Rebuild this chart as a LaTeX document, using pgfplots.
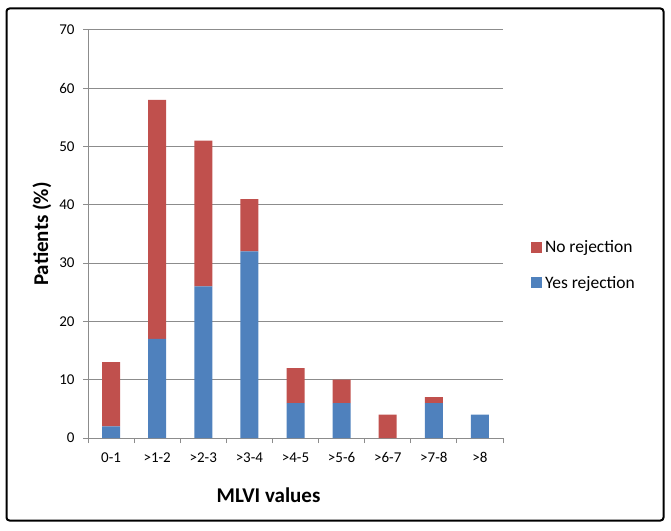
\documentclass[border=0pt]{standalone}
\usepackage{fontspec}
\setmainfont{Carlito}
\usepackage{pgfplots}
\pgfplotsset{compat=1.18}
\definecolor{cred}{HTML}{C0504D}
\definecolor{cblue}{HTML}{4F81BD}
\definecolor{cgrid}{HTML}{8C8C8C}
\begin{document}
\begin{tikzpicture}
\path[use as bounding box] (0pt,0pt) rectangle (671pt,530pt);
\draw[line width=2pt, rounded corners=3pt] (6.5pt,9.5pt) rectangle (663.5pt,521.5pt);
\begin{axis}[
  at={(88pt,92pt)}, anchor=south west,
  scale only axis, width=415pt, height=408pt,
  ybar stacked, bar width=18pt,
  xmin=-0.5, xmax=8.5, ymin=0, ymax=70,
  xtick={0,...,8},
  xticklabels={0-1,>1-2,>2-3,>3-4,>4-5,>5-6,>6-7,>7-8,>8},
  minor xtick={-0.5,0.5,...,8.5},
  ytick={0,10,...,70},
  axis x line*=bottom, axis y line*=left,
  axis line style={cgrid, line width=1pt},
  every tick/.style={cgrid, line width=1pt},
  tick align=outside,
  major tick length=5pt,
  major x tick style={draw=none},
  minor tick length=5pt,
  ymajorgrids, grid style={cgrid, line width=1pt},
  /pgf/number format/assume math mode=true,
  tick label style={font=\fontsize{15}{18}\selectfont, black},
  xticklabel style={yshift=-6pt},
  yticklabel style={xshift=-5pt},
  xlabel={\textbf{MLVI values}},
  ylabel={\textbf{Patients (\%)}},
  xlabel style={font=\fontsize{21}{24}\selectfont, at={(axis description cs:0.435,-0.14)}, anchor=center},
  ylabel style={font=\fontsize{21}{24}\selectfont, at={(axis description cs:-0.111,0.5)}, anchor=center},
  legend style={at={(1.067,0.424)}, anchor=west, draw=none, fill=none, inner sep=0pt,
    font=\fontsize{17.5}{20}\selectfont, row sep=16pt,
    nodes={inner sep=3pt, anchor=west}},
  legend cell align=left,
  reverse legend,
  legend image code/.code={\fill[#1] (0pt,-5.5pt) rectangle (11pt,5.5pt);},
]
\addplot[fill=cblue, draw=none] coordinates {(0,2) (1,17) (2,26) (3,32) (4,6) (5,6) (6,0) (7,6) (8,4)};
\addlegendentry{Yes rejection}
\addplot[fill=cred, draw=none] coordinates {(0,11) (1,41) (2,25) (3,9) (4,6) (5,4) (6,4) (7,1) (8,0)};
\addlegendentry{No rejection}
\end{axis}
\end{tikzpicture}
\end{document}
